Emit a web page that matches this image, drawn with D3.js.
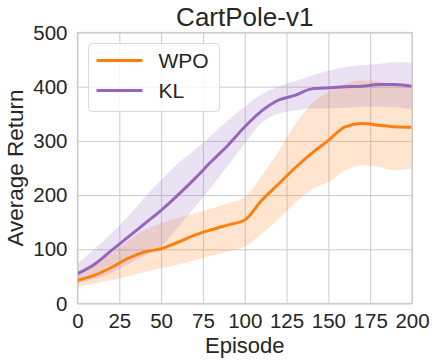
<!DOCTYPE html>
<html lang="en">
  <head>
    <meta charset="UTF-8" />
    <script src="https://cdn.jsdelivr.net/npm/d3@7/dist/d3.min.js"></script>
    <title>CartPole-v1</title>
    <style>
      body { margin: 0; background: #fff; }
      text { font-family: 'Liberation Sans', Arial, sans-serif; fill: #262626; }
    </style>
  </head>
  <body>
    <svg width="437" height="364" class="chart"></svg>
    <script>
      // values (every 10 episodes)
      const episodes = [0, 10, 20, 30, 40, 50, 60, 70, 80, 90, 100, 110, 120, 130, 140, 150, 160, 170, 180, 190, 200];
      const wpoMean = [43, 52, 66, 83, 95, 101, 113, 126, 136, 145, 154, 190, 220, 250, 277, 301, 326, 332, 329, 326, 325];
      const wpoHigh = [55, 72, 92, 115, 135, 148, 158, 166, 175, 185, 197, 235, 280, 330, 368, 390, 405, 412, 410, 403, 400];
      const wpoLow = [31, 37, 43, 50, 58, 65, 72, 80, 88, 96, 105, 128, 155, 185, 210, 224, 245, 255, 252, 246, 249];
      const klMean = [55, 72, 97, 122, 147, 172, 200, 230, 262, 292, 326, 355, 375, 384, 396, 398, 400, 401, 404, 404, 401];
      const klHigh = [74, 100, 128, 160, 195, 228, 258, 283, 310, 338, 363, 386, 400, 410, 420, 430, 436, 440, 442, 445, 445];
      const klLow = [37, 45, 56, 72, 88, 105, 140, 177, 215, 255, 295, 333, 350, 356, 360, 360, 361, 363, 363, 362, 358];
      const xTicks = [0, 25, 50, 75, 100, 125, 150, 175, 200];
      const yTicks = [0, 100, 200, 300, 400, 500];

      const series = [
        { name: 'WPO', color: '#ff7f0e', mean: wpoMean, low: wpoLow, high: wpoHigh },
        { name: 'KL', color: '#9467bd', mean: klMean, low: klLow, high: klHigh },
      ];

      const svg = d3.select('.chart');
      const margin = { top: 32.5, right: 25, bottom: 60.5, left: 77.5 };
      const width = +svg.attr('width') - margin.left - margin.right;
      const height = +svg.attr('height') - margin.top - margin.bottom;

      const x = d3.scaleLinear().domain([0, 200]).range([0, width]);
      const y = d3.scaleLinear().domain([0, 500]).range([height, 0]);

      const g = svg.append('g').attr('transform', `translate(${margin.left},${margin.top})`);

      // grid + ticks
      const xAxis = g.append('g')
        .attr('transform', `translate(0,${height})`)
        .call(d3.axisBottom(x).tickValues(xTicks).tickSize(-height).tickPadding(10));
      const yAxis = g.append('g')
        .call(d3.axisLeft(y).tickValues(yTicks).tickSize(-width).tickPadding(10));
      [xAxis, yAxis].forEach(a => {
        a.select('.domain').remove();
        a.selectAll('.tick line').attr('stroke', '#cccccc').attr('stroke-width', 1);
        a.selectAll('.tick text').attr('font-size', 20.5).attr('fill', '#262626')
          .attr('font-family', "'Liberation Sans', Arial, sans-serif");
      });

      // bands and lines
      const area = (s) => d3.area()
        .x((d, i) => x(episodes[i]))
        .y0((d, i) => y(s.low[i]))
        .y1((d, i) => y(s.high[i]))
        .curve(d3.curveMonotoneX);
      const line = d3.line()
        .x((d, i) => x(episodes[i]))
        .y(d => y(d))
        .curve(d3.curveMonotoneX);

      series.forEach(s => {
        g.append('path').datum(episodes).attr('d', area(s))
          .attr('fill', s.color).attr('fill-opacity', 0.2);
      });
      series.forEach(s => {
        g.append('path').datum(s.mean).attr('d', line)
          .attr('fill', 'none').attr('stroke', s.color).attr('stroke-width', 3);
      });

      // frame
      g.append('rect').attr('width', width).attr('height', height)
        .attr('fill', 'none').attr('stroke', '#cccccc').attr('stroke-width', 1.2);

      // legend
      const leg = g.append('g').attr('transform', 'translate(11,11)');
      leg.append('rect').attr('width', 131).attr('height', 68).attr('rx', 4)
        .attr('fill', '#fff').attr('fill-opacity', 0.8)
        .attr('stroke', '#d8d8d8').attr('stroke-width', 1);
      series.forEach((s, i) => {
        const row = leg.append('g').attr('transform', `translate(0,${17 + i * 30})`);
        row.append('line').attr('x1', 8).attr('x2', 54)
          .attr('stroke', s.color).attr('stroke-width', 3);
        row.append('text').attr('x', 70).attr('y', 7.5).attr('font-size', 21).text(s.name);
      });

      // titles
      svg.append('text').attr('x', margin.left + width / 2).attr('y', 26)
        .attr('text-anchor', 'middle').attr('font-size', 26).text('CartPole-v1');
      svg.append('text').attr('x', margin.left + width / 2).attr('y', 353)
        .attr('text-anchor', 'middle').attr('font-size', 22).text('Episode');
      svg.append('text')
        .attr('transform', `translate(23,${margin.top + height / 2}) rotate(-90)`)
        .attr('text-anchor', 'middle').attr('font-size', 22.5).text('Average Return');
    </script>
  </body>
</html>
